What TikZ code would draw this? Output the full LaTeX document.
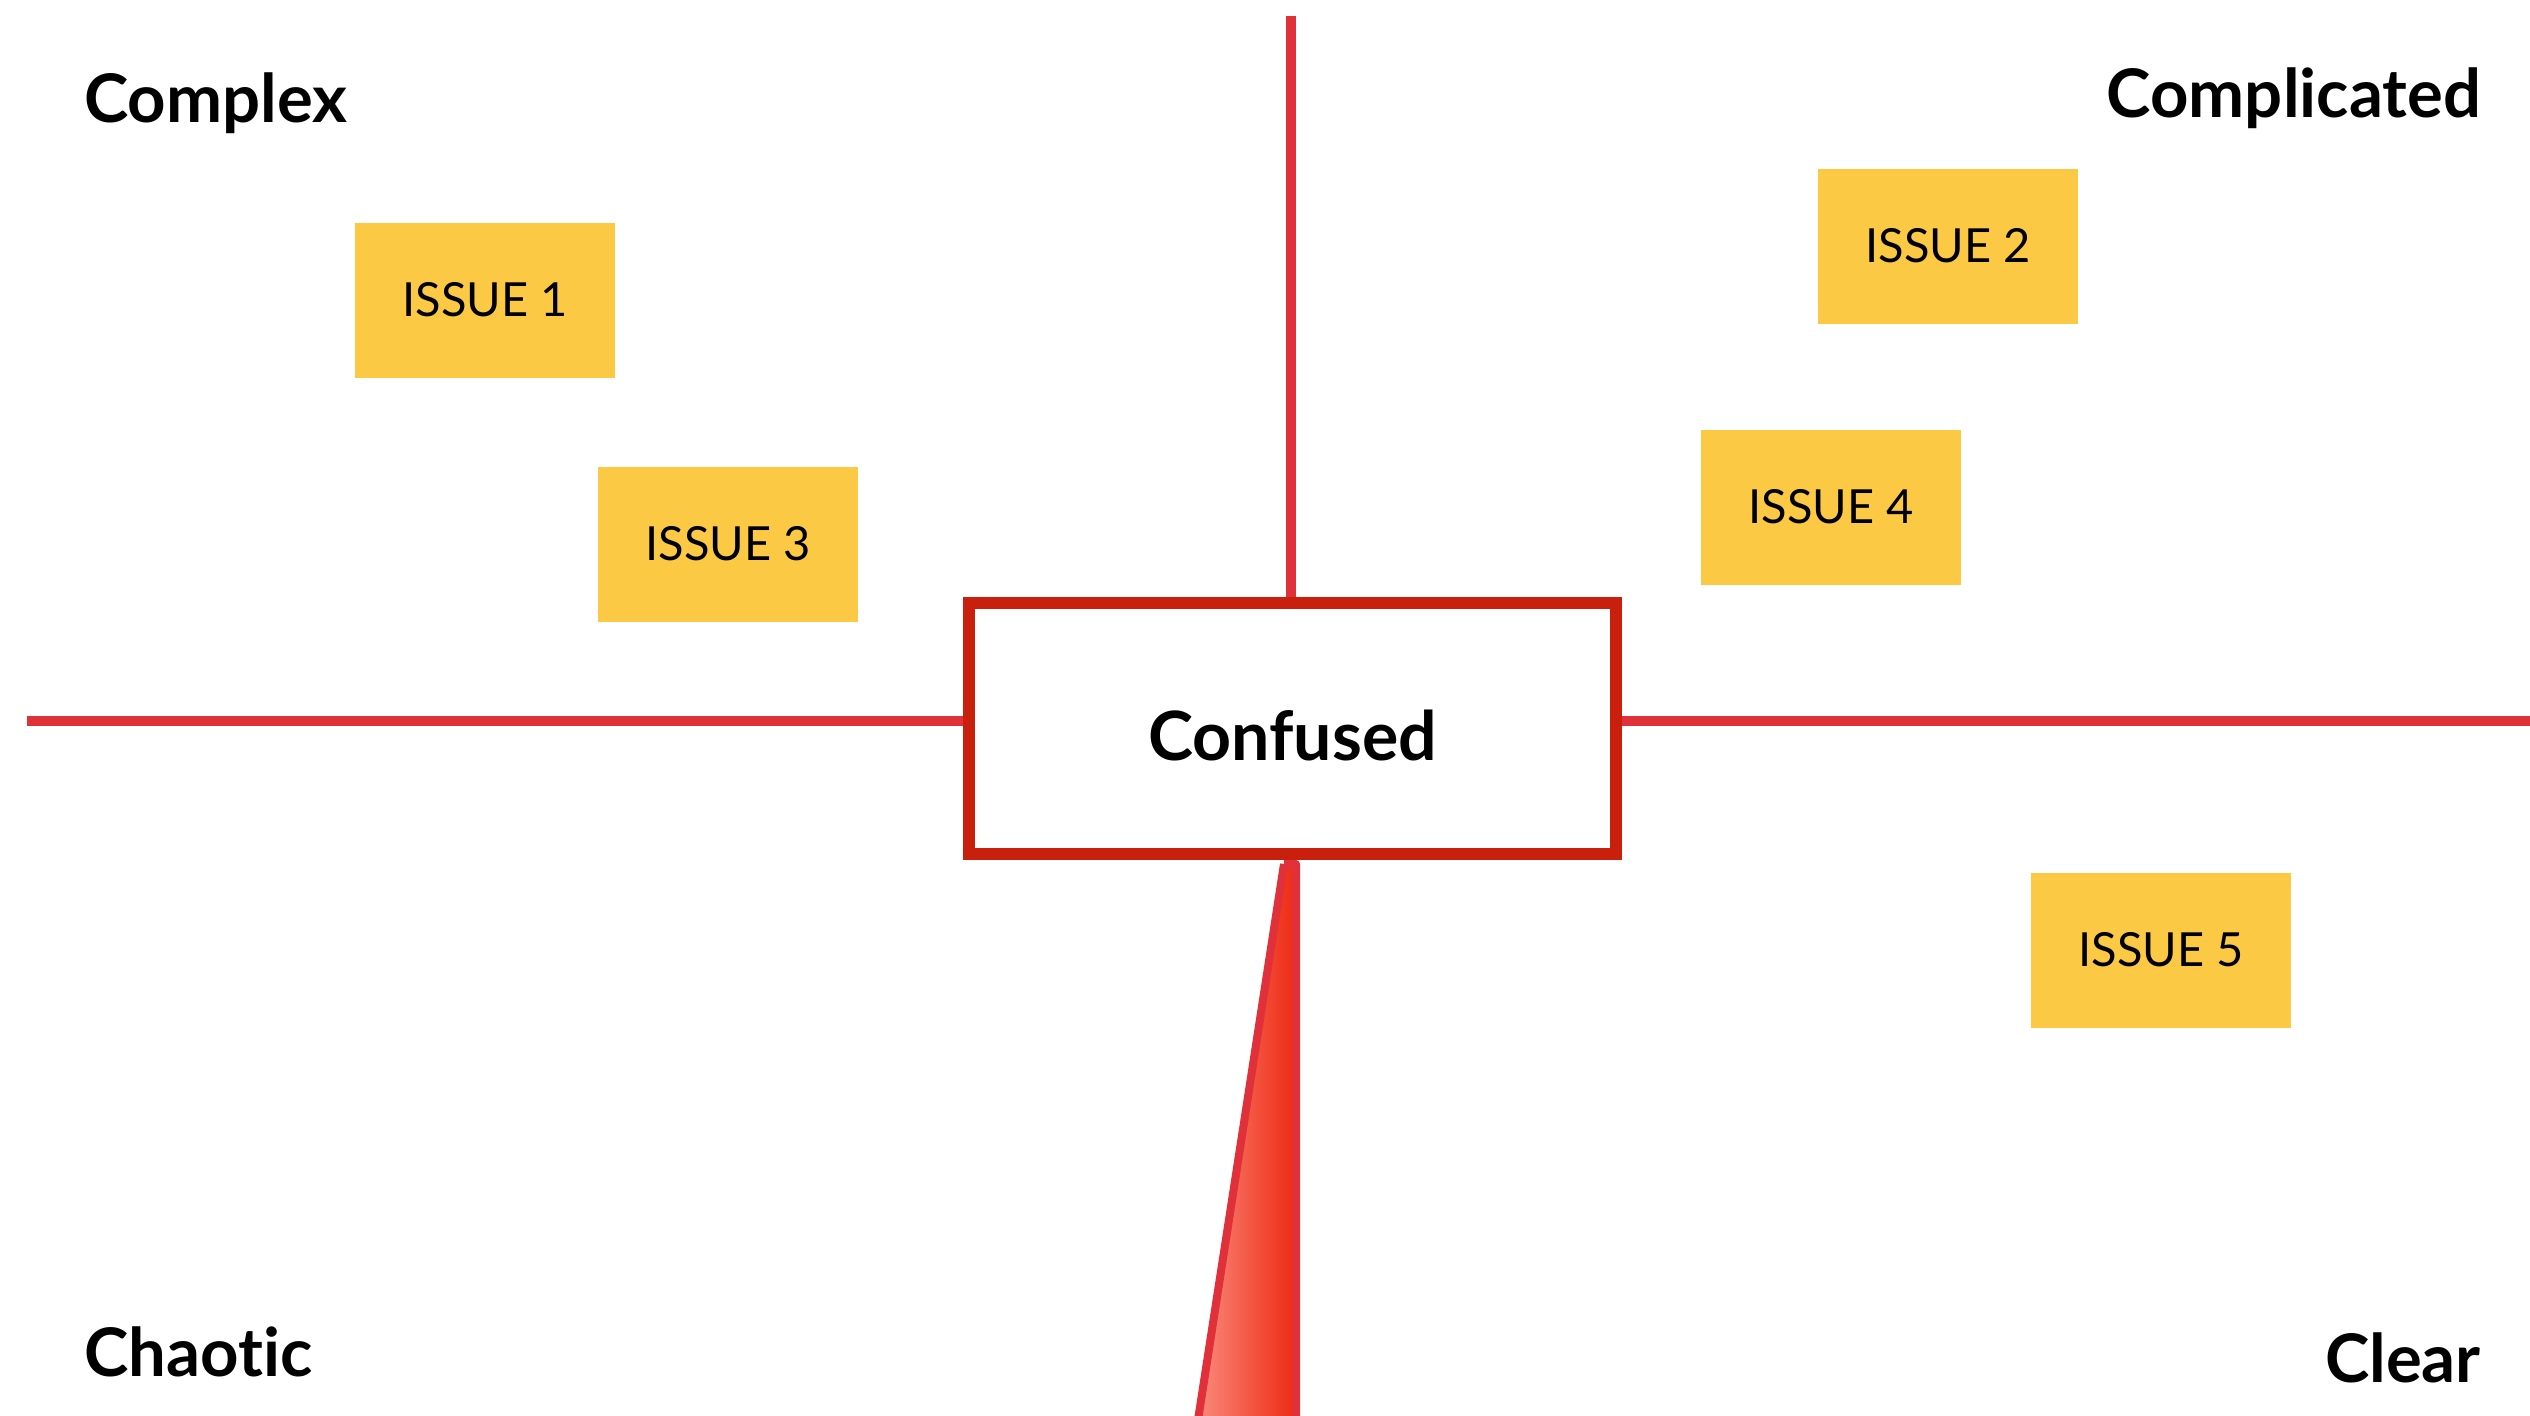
\documentclass[tikz,border=0pt]{standalone}
\usepackage{fontspec}
\setmainfont{Lato}[Ligatures={NoCommon,NoRare,NoDiscretionary}]
\definecolor{linered}{HTML}{E0303A}
\definecolor{boxred}{HTML}{C8200C}
\definecolor{sticky}{HTML}{FCC945}
\definecolor{wedgelight}{HTML}{FA8A7C}
\definecolor{wedgedark}{HTML}{EE2A12}
\begin{document}
\begin{tikzpicture}[x=1pt,y=-1pt,
  axis/.style={draw=linered,line width=10pt},
  issuebox/.style={fill=sticky,minimum width=260pt,minimum height=155pt,inner sep=0pt,
    font=\fontsize{47}{50}\selectfont},
  quadlabel/.style={font=\fontsize{67}{70}\selectfont\bfseries,inner sep=0pt}]
\useasboundingbox (0,0) rectangle (2530,1416);
\fill[white] (0,0) rectangle (2530,1416);
% central box
\node[draw=boxred,line width=12pt,fill=white,minimum width=647pt,minimum height=251pt,
  inner sep=0pt,font=\fontsize{68}{72}\selectfont\bfseries] (conf) at (1292.5,728.5)
  {\raisebox{-7pt}[\height][0pt]{Confused}};
% axes
\coordinate (top) at (1291,16);
\coordinate (left) at (27,721);
\coordinate (right) at (2530,721);
\draw[axis] (top) -- (top |- conf.north);
\draw[axis] (left) -- (left -| conf.west);
\draw[axis] (right) -- (right -| conf.east);
% wedge
\coordinate (wa) at (1284,864);
\coordinate (wb) at (1296,864);
\coordinate (wc) at (1296,1420);
\coordinate (wd) at (1198,1420);
\shade[left color=wedgelight,right color=wedgedark] (wa) -- (wb) -- (wc) -- (wd) -- cycle;
\draw[linered,line width=8pt,line join=round] (wa) -- (wb) -- (wc) (wd) -- (wa);
% issues
\node[issuebox] (i1) at (485,300) {ISSUE 1};
\node[issuebox] (i2) at (1948,246) {ISSUE 2};
\node[issuebox] (i3) at (728,544) {ISSUE 3};
\node[issuebox] (i4) at (1831,507) {ISSUE 4};
\node[issuebox] (i5) at (2161,950) {ISSUE 5};
% quadrant labels
\node[quadlabel,anchor=base west] (complex) at (84,122) {Complex};
\node[quadlabel,anchor=base east] (complicated) at (2481,117) {Complicated};
\node[quadlabel,anchor=base west] (chaotic) at (84,1376) {Chaotic};
\node[quadlabel,anchor=base east] (clear) at (2481,1382) {Clear};
\end{tikzpicture}
\end{document}
